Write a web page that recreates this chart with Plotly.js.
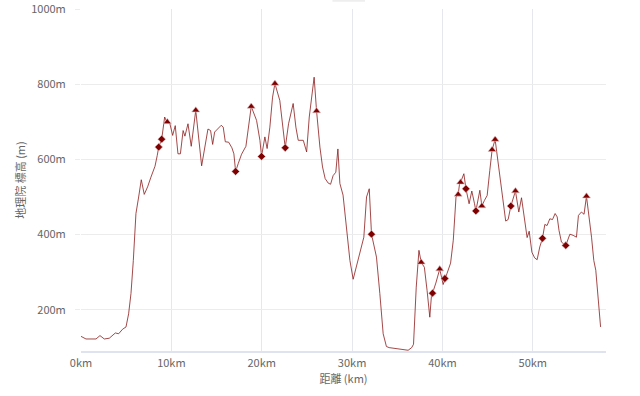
<!DOCTYPE html>
<html>
<head>
<meta charset="utf-8">
<script src="https://cdn.plot.ly/plotly-3.0.1.min.js"></script>
<style>html,body{margin:0;padding:0;background:#fff;}#chart{width:640px;height:396px;}</style>
</head>
<body>
<div id="chart"></div>
<script>
const distanceKm = [0, 0.55, 1.66, 2.1, 2.58, 3.13, 3.8, 4.17, 4.6, 4.98, 5.27, 5.53, 5.79, 6.08, 6.38, 6.67, 7.0, 7.37, 7.74, 8.19, 8.44, 8.6, 8.93, 9.26, 9.4, 9.55, 9.84, 10.14, 10.43, 10.73, 11.0, 11.3, 11.5, 11.84, 12.2, 12.7, 13.35, 13.8, 14.05, 14.34, 14.57, 14.79, 15.19, 15.52, 15.74, 15.97, 16.34, 16.7, 16.92, 17.11, 17.4, 17.77, 18.25, 18.84, 19.43, 19.8, 19.98, 20.35, 20.6, 20.9, 21.2, 21.46, 22.0, 22.38, 22.6, 22.97, 23.48, 23.78, 24.04, 24.6, 24.97, 25.26, 25.8, 26.07, 26.44, 26.73, 27.02, 27.36, 27.62, 27.9, 28.2, 28.43, 28.65, 29.0, 29.45, 29.76, 30.12, 30.68, 31.08, 31.3, 31.6, 31.9, 32.15, 32.7, 33.07, 33.44, 33.8, 34.1, 35.3, 36.2, 36.6, 36.8, 37.1, 37.4, 37.65, 38.0, 38.3, 38.6, 38.8, 38.9, 39.27, 39.7, 40.08, 40.27, 40.5, 40.9, 41.2, 41.5, 41.74, 41.9, 42.0, 42.37, 42.6, 42.95, 43.25, 43.55, 43.7, 44.14, 44.36, 44.65, 44.95, 45.24, 45.5, 45.83, 46.35, 46.72, 47.0, 47.27, 47.57, 48.08, 48.45, 48.75, 49.1, 49.37, 49.6, 49.9, 50.2, 50.48, 50.77, 51.07, 51.33, 51.58, 51.88, 52.18, 52.47, 52.7, 52.9, 53.17, 53.65, 54.1, 54.46, 54.83, 55.05, 55.38, 55.67, 55.94, 56.5, 56.75, 56.97, 57.22, 57.5];
const elevationM = [129, 122, 122, 131, 122, 124, 138, 136, 148, 154, 189, 243, 331, 456, 500, 546, 507, 527, 553, 582, 611, 633, 654, 713, 705, 700, 695, 664, 690, 615, 615, 677, 662, 695, 635, 731, 583, 642, 681, 677, 640, 673, 682, 691, 686, 647, 646, 631, 615, 568, 589, 614, 635, 741, 704, 651, 608, 660, 629, 686, 766, 802, 757, 669, 631, 695, 749, 686, 651, 651, 620, 713, 819, 729, 633, 580, 549, 537, 534, 557, 566, 628, 536, 505, 393, 331, 281, 331, 367, 393, 500, 522, 401, 340, 243, 136, 102, 99, 95, 92, 99, 108, 260, 358, 326, 313, 251, 180, 243, 244, 271, 308, 267, 283, 296, 324, 385, 500, 507, 536, 539, 562, 522, 482, 516, 482, 463, 518, 476, 491, 504, 571, 626, 653, 562, 491, 436, 440, 476, 516, 460, 498, 429, 392, 409, 353, 338, 333, 367, 390, 427, 424, 442, 440, 456, 447, 411, 380, 371, 401, 398, 393, 451, 460, 454, 502, 393, 331, 305, 243, 154];
const peakKm = [9.55, 12.7, 18.84, 21.46, 26.07, 37.65, 39.7, 41.74, 42.0, 44.36, 45.5, 45.83, 48.08, 55.94];
const peakM = [700, 731, 741, 802, 729, 326, 308, 507, 539, 476, 626, 653, 516, 502];
const valleyKm = [8.6, 8.93, 17.11, 19.98, 22.6, 32.15, 38.9, 40.27, 42.6, 43.7, 47.57, 51.07, 53.65];
const valleyM = [633, 654, 568, 608, 631, 401, 244, 283, 522, 463, 476, 390, 371];
const xTickVals = [0, 10, 20, 30, 40, 50];
const xTickText = ['0km', '10km', '20km', '30km', '40km', '50km'];
const yTickVals = [200, 400, 600, 800, 1000];
const yTickText = ['200m', '400m', '600m', '800m', '1000m'];

const font = '"Noto Sans CJK JP", "Noto Sans", sans-serif';
const traces = [
  {x: distanceKm, y: elevationM, type: 'scatter', mode: 'lines',
   line: {color: '#8b1a1a', width: 0.8}, hoverinfo: 'none', showlegend: false},
  {x: valleyKm, y: valleyM, type: 'scatter', mode: 'markers',
   marker: {symbol: 'diamond', size: 6, color: '#7f0000', line: {color: '#e8c8c8', width: 0.6}}, showlegend: false},
  {x: peakKm, y: peakM, type: 'scatter', mode: 'markers',
   marker: {symbol: 'triangle-up', size: 7, color: '#7f0000', line: {color: '#e8c8c8', width: 0.6}}, showlegend: false}
];
const layout = {
  width: 640, height: 396,
  margin: {l: 81, r: 34, t: 9, b: 45},
  paper_bgcolor: '#fff', plot_bgcolor: '#fff',
  font: {family: font, size: 11, color: '#666'},
  xaxis: {range: [0, 58.1], tickvals: xTickVals, ticktext: xTickText,
    showgrid: true, gridcolor: '#e6e6ee', gridwidth: 1, zeroline: false,
    showline: true, linecolor: '#dfe3ef', linewidth: 2, ticks: '', ticklabelstandoff: 1,
    tickfont: {size: 11, color: '#666'},
    title: {text: '距離 (km)', font: {size: 11, color: '#666'}, standoff: 3}},
  yaxis: {range: [90, 1000.6], tickvals: yTickVals, ticktext: yTickText,
    showgrid: true, gridcolor: '#ececec', gridwidth: 1, zeroline: false,
    showline: false, ticks: 'outside', ticklen: 5, tickcolor: '#ececec', ticklabelstandoff: 7,
    tickfont: {size: 11, color: '#666'},
    title: {text: '地理院 標高 (m)', font: {size: 11, color: '#666'}, standoff: 3}},
  shapes: [{type: 'rect', xref: 'paper', yref: 'paper', x0: 0.479, x1: 0.541, y0: 1.021, y1: 1.03,
    fillcolor: '#eeeeee', line: {width: 0}}]
};
Plotly.newPlot('chart', traces, layout, {displayModeBar: false, staticPlot: true});
</script>
</body>
</html>
